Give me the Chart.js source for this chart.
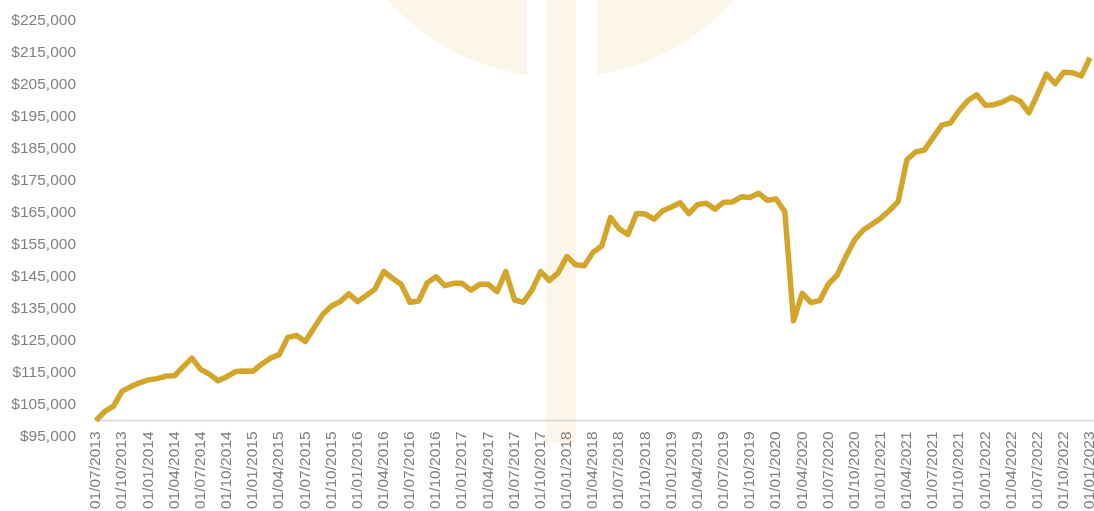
<!DOCTYPE html>
<html>
<head>
<meta charset="utf-8">
<script src="https://cdn.jsdelivr.net/npm/chart.js@4.4.1/dist/chart.umd.min.js"></script>
<style>
  html, body { margin: 0; padding: 0; background: #fff; overflow: hidden; }
  canvas { display: block; }
</style>
</head>
<body>
<canvas id="chart" width="1100" height="511"></canvas>
<script>
// monthly portfolio value, 01/07/2013 .. 01/01/2023
const values = [
  100000, 102800, 104500, 109200, 110600, 111800, 112700, 113100, 113900, 114000,
  116800, 119500, 116000, 114500, 112400, 113700, 115300, 115500, 115400, 117600,
  119500, 120600, 126000, 126600, 124700, 128900, 133200, 135800, 137200, 139600,
  137200, 139100, 141100, 146600, 144500, 142600, 137000, 137400, 143100, 145000,
  142200, 142900, 142900, 140800, 142600, 142600, 140300, 146600, 137700, 137000,
  140800, 146600, 143800, 146200, 151300, 148700, 148400, 152600, 154600, 163500,
  160000, 158200, 164800, 164600, 163000, 165600, 166800, 168100, 164700, 167600,
  168000, 166100, 168300, 168400, 170000, 169800, 171100, 168900, 169300, 165300,
  131200, 139800, 136900, 137500, 142700, 145500, 151300, 156500, 159600, 161400,
  163300, 165700, 168500, 181600, 184000, 184600, 188500, 192400, 193100, 197000,
  200100, 201900, 198600, 198800, 199700, 201100, 199900, 196300, 202200, 208400,
  205400, 209000, 208800, 207800, 213500
];

const firstYear = 2013;
const firstMonth = 7;
const labelEvery = 3;

// y tick labels; the plot floor sits a little above the lowest tick
const yTicks = [95000, 105000, 115000, 125000, 135000, 145000, 155000,
  165000, 175000, 185000, 195000, 205000, 215000, 225000];
const yFloor = 96550;
const yTop = 225000;
const baseValue = 100000;

// category labels, one per month
const labels = values.map((v, i) => {
  const n = firstMonth - 1 + i;
  const m = n % 12 + 1;
  const y = firstYear + Math.floor(n / 12);
  return '01/' + String(m).padStart(2, '0') + '/' + y;
});

const gold = '#D4A52B';
const grey = '#808080';
const tickFont = { family: 'Liberation Sans', size: 15.5 };

// faint logo behind the plot
const watermark = {
  id: 'watermark',
  beforeDraw(chart) {
    const c = chart.ctx;
    c.save();
    c.fillStyle = 'rgba(212,165,43,0.1)';
    c.beginPath();
    c.rect(0, 0, 527, 120);
    c.rect(597, 0, 600, 120);
    c.clip();
    c.beginPath();
    c.arc(561, -156, 233.5, 0, Math.PI * 2);
    c.fill();
    c.restore();
    c.save();
    c.fillStyle = 'rgba(212,165,43,0.1)';
    c.fillRect(546, 0, 30, 443);
    c.restore();
  }
};

// grey base line at the starting value
const baseLine = {
  id: 'baseLine',
  beforeDatasetsDraw(chart) {
    const c = chart.ctx;
    const y = chart.scales.y.getPixelForValue(baseValue);
    c.save();
    c.strokeStyle = '#dcdcdc';
    c.lineWidth = 2;
    c.beginPath();
    c.moveTo(chart.chartArea.left - 2, y);
    c.lineTo(chart.width, y);
    c.stroke();
    c.restore();
  }
};

new Chart(document.getElementById('chart'), {
  type: 'line',
  data: {
    labels: labels,
    datasets: [{
      data: values,
      borderColor: gold,
      borderWidth: 5.5,
      borderJoinStyle: 'round',
      pointRadius: 0,
      tension: 0,
      fill: false
    }]
  },
  options: {
    responsive: false,
    animation: false,
    layout: { padding: { top: 21, right: 10, left: 0, bottom: 0 } },
    plugins: {
      legend: { display: false },
      tooltip: { enabled: false }
    },
    scales: {
      x: {
        grid: { display: false, drawTicks: false },
        border: { display: false },
        ticks: {
          autoSkip: false,
          minRotation: 90,
          maxRotation: 90,
          padding: 0,
          color: grey,
          font: tickFont,
          callback: (v, i) => (i % labelEvery === 0 ? labels[i] : '')
        },
        afterFit(scale) {
          scale.height = 79.5;
          scale.paddingLeft = 0;
          scale.paddingRight = 0;
        }
      },
      y: {
        min: yFloor,
        max: yTop,
        grid: { display: false, drawTicks: false },
        border: { display: false },
        ticks: {
          padding: 20,
          color: grey,
          font: tickFont,
          callback: v => '$' + v.toLocaleString('en-US')
        },
        afterBuildTicks(scale) { scale.ticks = yTicks.map(v => ({ value: v })); },
        afterFit(scale) {
          scale.width = 96;
          scale.paddingTop = 0;
          scale.paddingBottom = 0;
        }
      }
    }
  },
  plugins: [watermark, baseLine]
});
</script>
</body>
</html>
